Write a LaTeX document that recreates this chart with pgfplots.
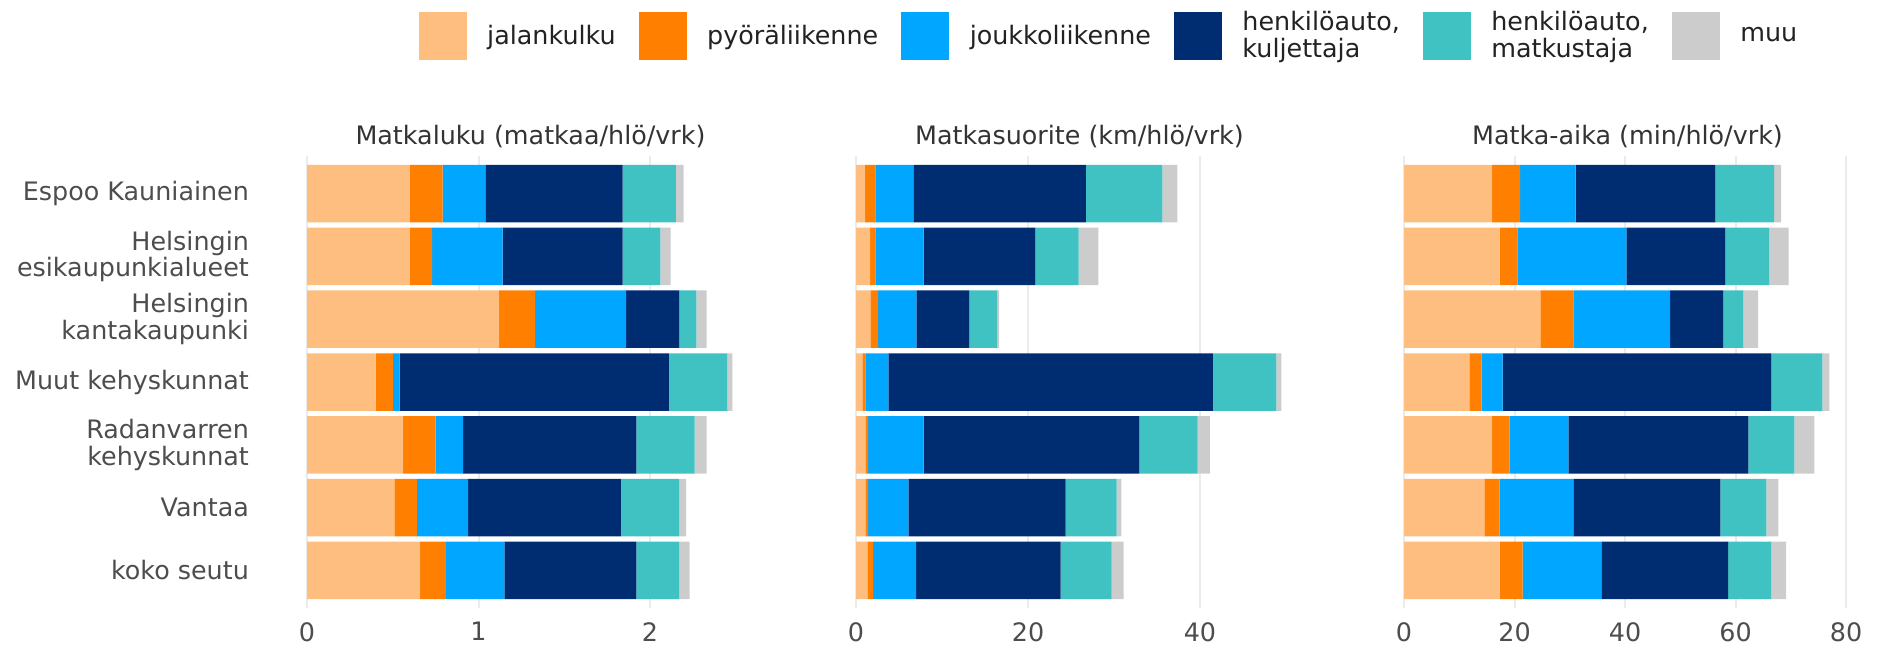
\documentclass[border=0pt]{standalone}
\usepackage{fontspec}
\setmainfont{DejaVu Sans}
\usepackage{pgfplots}
\usepackage{pgfplotstable}
\pgfplotsset{compat=1.18}
\definecolor{cWalk}{HTML}{FDBE80}
\definecolor{cBike}{HTML}{FF7F00}
\definecolor{cPT}{HTML}{00A6FF}
\definecolor{cDrv}{HTML}{002C72}
\definecolor{cPas}{HTML}{40C1C2}
\definecolor{cOth}{HTML}{CCCCCC}
\definecolor{gridc}{HTML}{EBEBEB}
\definecolor{tickc}{HTML}{4D4D4D}
\definecolor{titlec}{HTML}{333333}
\definecolor{legc}{HTML}{222222}
\newcommand\fs{\fontsize{12.7}{13.3}\selectfont}

% y: 1 Espoo Kauniainen, 2 Helsingin esikaupunkialueet, 3 Helsingin kantakaupunki,
% 4 Muut kehyskunnat, 5 Radanvarren kehyskunnat, 6 Vantaa, 7 koko seutu
\pgfplotstableread{
y a b c d e f
1 0.60 0.19 0.25 0.80 0.31 0.045
2 0.60 0.13 0.41 0.70 0.22 0.06
3 1.12 0.21 0.53 0.31 0.10 0.06
4 0.40 0.10 0.04 1.57 0.34 0.03
5 0.56 0.19 0.16 1.01 0.34 0.07
6 0.51 0.13 0.30 0.89 0.34 0.04
7 0.66 0.15 0.34 0.77 0.25 0.06
}\tabA
\pgfplotstableread{
y a b c d e f
1 1.05 1.20 4.42 20.07 8.88 1.74
2 1.63 0.62 5.62 12.98 5.04 2.29
3 1.67 0.89 4.46 6.16 3.25 0.20
4 0.74 0.35 2.67 37.75 7.37 0.58
5 1.09 0.31 6.47 25.08 6.78 1.43
6 1.09 0.31 4.69 18.29 5.93 0.54
7 1.32 0.66 5.00 16.82 5.93 1.39
}\tabB
\pgfplotstableread{
y a b c d e f
1 15.93 5.07 10.07 25.28 10.62 1.27
2 17.32 3.19 19.73 17.92 7.90 3.56
3 24.68 5.97 17.49 9.60 3.68 2.65
4 11.83 2.23 3.80 48.63 9.23 1.26
5 15.93 3.20 10.61 32.58 8.33 3.62
6 14.54 2.78 13.33 26.61 8.32 2.17
7 17.32 4.16 14.24 22.92 7.85 2.65
}\tabC

\pgfplotsset{
  panel/.style={
    scale only axis, width=223.5pt, height=226pt,
    anchor=south west,
    xbar stacked, bar width=0.916,
    y dir=reverse, ymin=0.4, ymax=7.6, xmin=0,
    axis line style={draw=none}, tick style={draw=none}, major tick length=0pt,
    xmajorgrids, grid style={draw=gridc, line width=1pt},
    title style={at={(0.5,1)}, anchor=base, yshift=-0.15pt, font=\fs, text=titlec},
    xticklabel style={font=\fs, text=tickc, anchor=north, inner sep=0pt, yshift=-7pt},
    /pgf/number format/assume math mode=true,
  },
}

\begin{document}
\begin{tikzpicture}
\useasboundingbox (0,0) rectangle (941pt,322pt);

\begin{axis}[panel, at={(153.5pt,18pt)}, xmax=2.606, xtick={0,1,2},
  title={Matkaluku (matkaa/hlö/vrk)},
  ytick={1,...,7},
  yticklabels={Espoo Kauniainen,{Helsingin\\esikaupunkialueet},{Helsingin\\kantakaupunki},Muut kehyskunnat,{Radanvarren\\kehyskunnat},Vantaa,koko seutu},
  yticklabel style={font=\fs, text=tickc, align=right, anchor=east, inner sep=0pt, xshift=-28.85pt},
  legend columns=6,
  legend image code/.code={\fill[#1] (0pt,-12pt) rectangle (24pt,12pt);},
  legend style={draw=none, fill=none, at={(rel axis cs:0.249,1.329)}, anchor=north west,
    inner sep=0pt, font=\fs,
    cells={anchor=west, align=left, inner xsep=0pt, text=legc, font=\fs},
    /tikz/every odd column/.append style={column sep=8.25pt},
    /tikz/every even column/.append style={column sep=9.5pt}},
]
\addplot[fill=cWalk, draw=none] table[x=a, y=y] {\tabA};
\addplot[fill=cBike, draw=none] table[x=b, y=y] {\tabA};
\addplot[fill=cPT, draw=none] table[x=c, y=y] {\tabA};
\addplot[fill=cDrv, draw=none] table[x=d, y=y] {\tabA};
\addplot[fill=cPas, draw=none] table[x=e, y=y] {\tabA};
\addplot[fill=cOth, draw=none] table[x=f, y=y] {\tabA};
\addlegendentry{jalankulku}
\addlegendentry{pyöräliikenne}
\addlegendentry{joukkoliikenne}
\addlegendentry{henkilöauto,\\kuljettaja}
\addlegendentry{henkilöauto,\\matkustaja}
\addlegendentry{muu}
\end{axis}

\begin{axis}[panel, at={(428pt,18pt)}, xmax=51.98, xtick={0,20,40}, ytick=\empty,
  title={Matkasuorite (km/hlö/vrk)}]
\addplot[fill=cWalk, draw=none] table[x=a, y=y] {\tabB};
\addplot[fill=cBike, draw=none] table[x=b, y=y] {\tabB};
\addplot[fill=cPT, draw=none] table[x=c, y=y] {\tabB};
\addplot[fill=cDrv, draw=none] table[x=d, y=y] {\tabB};
\addplot[fill=cPas, draw=none] table[x=e, y=y] {\tabB};
\addplot[fill=cOth, draw=none] table[x=f, y=y] {\tabB};
\end{axis}

\begin{axis}[panel, at={(702pt,18pt)}, xmax=80.9, xtick={0,20,40,60,80}, ytick=\empty,
  title={Matka-aika (min/hlö/vrk)}]
\addplot[fill=cWalk, draw=none] table[x=a, y=y] {\tabC};
\addplot[fill=cBike, draw=none] table[x=b, y=y] {\tabC};
\addplot[fill=cPT, draw=none] table[x=c, y=y] {\tabC};
\addplot[fill=cDrv, draw=none] table[x=d, y=y] {\tabC};
\addplot[fill=cPas, draw=none] table[x=e, y=y] {\tabC};
\addplot[fill=cOth, draw=none] table[x=f, y=y] {\tabC};
\end{axis}
\end{tikzpicture}
\end{document}
